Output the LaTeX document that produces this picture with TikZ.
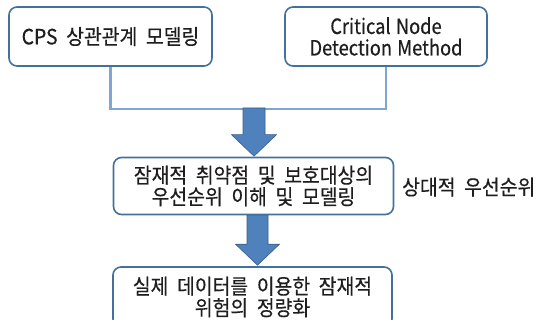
\documentclass[tikz,border=0pt]{standalone}
\usepackage{fontspec}
\setmainfont[WordSpace=2.0, FakeBold=0.4, FakeStretch=0.92]{Noto Sans CJK KR}
\newfontfamily\latinlabel[WordSpace=1.3, FakeBold=0.4, FakeStretch=0.87]{Noto Sans CJK KR}
\usetikzlibrary{calc}
\definecolor{boxblue}{RGB}{65,113,156}
\definecolor{linkblue}{RGB}{128,164,214}
\definecolor{arrowfill}{RGB}{79,129,189}
\definecolor{arrowedge}{RGB}{56,93,138}
\definecolor{inktext}{RGB}{30,30,30}
\tikzset{
  stagebox/.style={draw=boxblue, line width=1.6pt, rounded corners=8pt, fill=white,
    align=center, text=inktext, font=\fontsize{21}{21.5}\selectfont, inner sep=0pt},
  sidelabel/.style={anchor=west, text=inktext, font=\fontsize{21}{21.5}\selectfont, inner sep=0pt},
  link/.style={draw=linkblue, line width=2.2pt},
  blockarrow/.style={fill=arrowfill, draw=arrowedge, line width=0.6pt, line join=miter}
}
\begin{document}
\begin{tikzpicture}[x=1pt, y=-1pt]
  \useasboundingbox (0,0) rectangle (537,320);

  % input stages
  \node[stagebox, minimum width=203pt, minimum height=59pt] (cps) at (110.5,36.5)
    {CPS 상관관계 모델링};
  \node[stagebox, minimum width=202pt, minimum height=59pt,
    font=\latinlabel\fontsize{21}{21.5}\selectfont] (cnd) at (386,36.5)
    {Critical Node\\Detection Method};

  % joining line below both inputs
  \draw[link] (cps.south) -- ++(0,42) -| (cnd.south);
  \coordinate (join) at (254,108);

  % middle and final stages
  \node[stagebox, minimum width=280pt, minimum height=57pt] (prio) at (253.5,186)
    {잠재적 취약점 및 보호대상의\\우선순위 이해 및 모델링};
  \node[sidelabel] (rel) at (402,187) {상대적 우선순위};
  \node[stagebox, minimum width=279pt, minimum height=60pt] (risk) at (252.5,297)
    {실제 데이터를 이용한 잠재적\\위험의 정량화};

  % block arrows between stages
  \draw[blockarrow] ($(join)+(-11,0)$) -- ($(join)+(11,0)$)
    -- ($(join |- prio.north)+(11,-22)$) -- ($(join |- prio.north)+(22.5,-22)$)
    -- ($(join |- prio.north)+(0,-0.5)$)
    -- ($(join |- prio.north)+(-22.5,-22)$) -- ($(join |- prio.north)+(-11,-22)$) -- cycle;
  \coordinate (mid) at ($(prio.south)+(4,0)$);
  \draw[blockarrow] ($(mid)+(-10.5,0)$) -- ($(mid)+(10.5,0)$)
    -- ($(mid |- risk.north)+(10.5,-22)$) -- ($(mid |- risk.north)+(22,-22)$)
    -- ($(mid |- risk.north)+(0,-1)$)
    -- ($(mid |- risk.north)+(-22,-22)$) -- ($(mid |- risk.north)+(-10.5,-22)$) -- cycle;
\end{tikzpicture}
\end{document}
